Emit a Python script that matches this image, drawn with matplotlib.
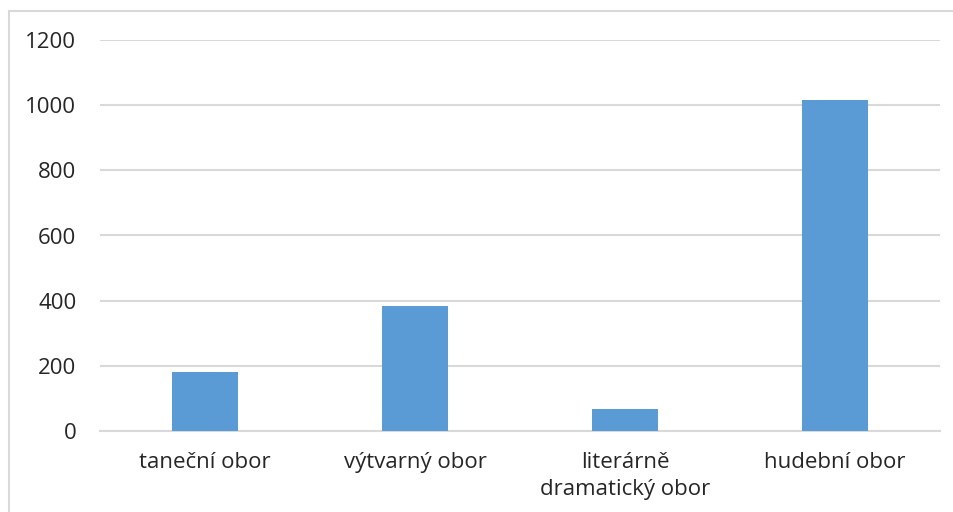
import matplotlib
matplotlib.use("Agg")
import matplotlib.pyplot as plt
from matplotlib.patches import Rectangle

categories = ["taneční obor", "výtvarný obor", "literárně\ndramatický obor", "hudební obor"]
values = [180, 385, 66, 1017]
yticks = [0, 200, 400, 600, 800, 1000, 1200]

plt.rcParams['font.family'] = ['Open Sans', 'DejaVu Sans']

fig = plt.figure(figsize=(9.54, 5.12), dpi=100)
ax = fig.add_axes([100 / 954, 1 - 431 / 512, 840 / 954, 391 / 512])

# outer chart frame
fig.patches.append(Rectangle((9 / 954, -0.1), 1.2, 1 - 11 / 512 + 0.1,
                             transform=fig.transFigure, fill=False,
                             edgecolor="#d9d9d9", linewidth=1.5))

x = range(len(categories))
ax.bar(x, values, width=0.315, color="#5b9bd5", zorder=3)

ax.set_xlim(-0.5, len(categories) - 0.5)
ax.set_ylim(0, 1200)
ax.set_yticks(yticks)
ax.set_xticks(list(x))
ax.set_xticklabels(categories, fontsize=16, color="#262626", linespacing=1.4)
ax.tick_params(axis="y", labelsize=16, labelcolor="#262626", length=0, pad=17)
ax.tick_params(axis="x", length=0, pad=15)

ax.grid(axis="y", color="#d9d9d9", linewidth=1.5, zorder=0)
for s in ["top", "right", "left"]:
    ax.spines[s].set_visible(False)
ax.spines["bottom"].set_color("#d9d9d9")
ax.spines["bottom"].set_linewidth(1.5)

fig.savefig("out.png", dpi=100)
